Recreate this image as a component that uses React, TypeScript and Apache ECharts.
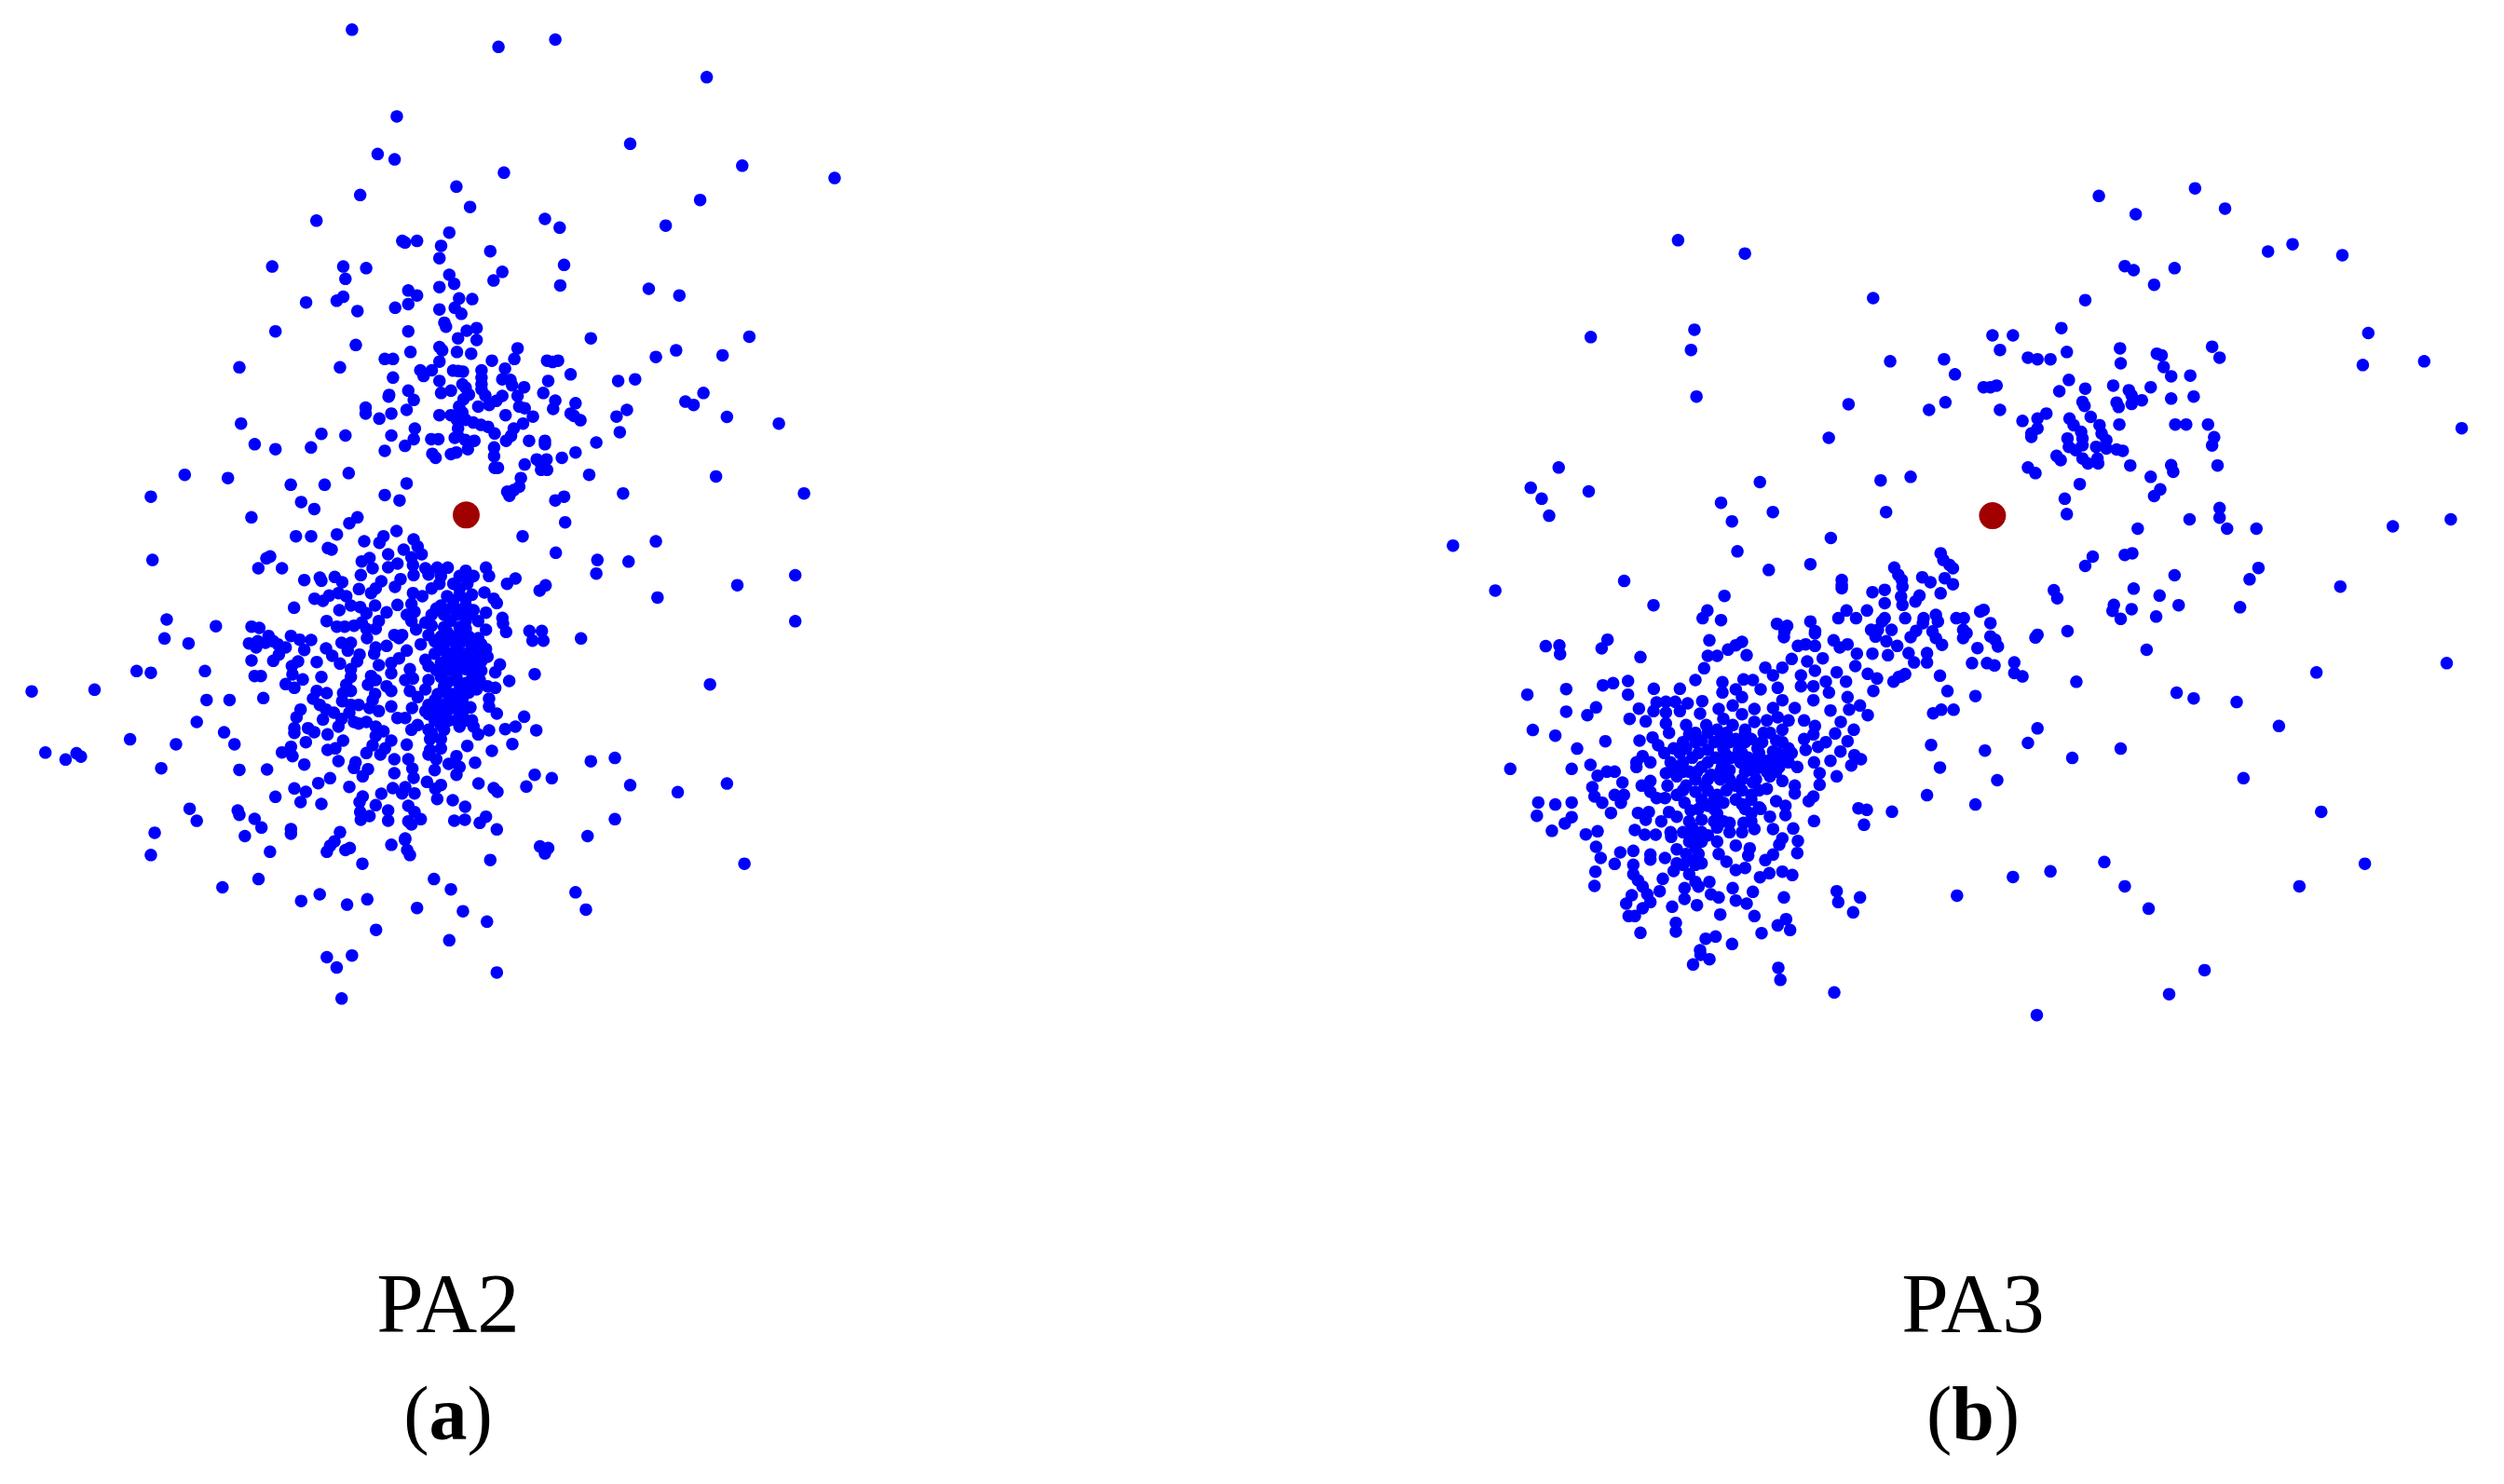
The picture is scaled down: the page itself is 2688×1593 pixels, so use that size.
import React, { useEffect, useRef } from "react";
import * as echarts from "echarts";

// Points, in overlapping reading windows.
const pa2Upper = [[644,89],[912,141],[1016,119],[1293,232],[726,350],[1153,432],[691,463],[722,479],[1358,498],[1527,535],[922,519],[835,561],[659,586],[1281,601],[860,622],[579,663],[997,658],[1024,684],[1218,678],[822,699],[736,724],[741,729],[763,724],[807,739],[897,755],[804,776],[498,801],[628,801],[670,806],[1032,796],[919,817],[822,826],[632,838],[831,853],[903,843],[1025,858],[804,863],[1187,868],[1243,888],[747,873],[763,888],[628,892],[616,904],[560,909],[840,897],[864,899],[747,914],[723,925],[654,935],[804,930],[832,925],[844,943],[813,970],[816,982],[504,996],[747,996],[872,986],[854,994],[838,1017],[872,1022],[1081,1017],[1371,1012],[651,1037],[804,1043],[809,1053],[947,1047],[836,1058],[862,1063],[751,1058],[1237,1053],[1322,1068],[704,1079],[719,1079],[941,1079],[1001,1084],[1011,1088],[1021,1084],[1200,1073],[900,1084],[804,1087],[438,1104],[622,1104],[769,1113],[790,1113],[829,1114],[847,1117],[838,1115],[881,1113],[924,1108],[1044,1125],[775,1130],[719,1135],[804,1145],[881,1135],[919,1140],[934,1142],[1003,1145],[1131,1145],[1162,1140],[881,1155],[846,1155],[937,1158],[959,1164],[747,1174],[825,1174],[807,1181],[852,1165],[881,1170],[994,1181],[1287,1181],[712,1187],[711,1192],[858,1186],[888,1189],[919,1190],[947,1190],[757,1202],[848,1200],[1016,1204],[1254,1207],[1269,1217],[1053,1212],[669,1225],[908,1205],[895,1217],[875,1222],[840,1222],[950,1222],[960,1227],[1012,1229],[1147,1232],[669,1243],[744,1232],[716,1243],[846,1240],[804,1248],[925,1248],[1044,1243],[694,1258],[825,1248],[975,1252],[1128,1252],[1330,1253],[1050,1250],[1062,1263],[836,1262],[852,1262],[866,1270],[880,1277],[893,1283],[957,1273],[1425,1273],[441,1273],[940,1288],[759,1288],[838,1288],[905,1303],[1134,1299],[588,1304],[632,1309],[716,1309],[838,1310],[935,1310],[757,1320],[789,1320],[802,1320],[832,1316],[851,1322],[868,1325],[926,1325],[968,1325],[997,1325],[997,1335],[1091,1330],[466,1335],[504,1350],[569,1345],[741,1340],[904,1345],[856,1350],[704,1355],[791,1364],[797,1376],[825,1365],[835,1360],[1053,1360],[904,1371],[1028,1376],[982,1381],[1000,1381],[960,1396],[990,1396],[905,1406],[911,1406],[990,1412],[1001,1412],[338,1427],[1078,1427],[1310,1432],[417,1437],[638,1422],[953,1437],[532,1457],[594,1457],[744,1453],[950,1463],[940,1473],[928,1478],[932,1490],[276,1493],[704,1488],[1032,1493],[1140,1483],[1471,1483],[731,1504],[1016,1504],[551,1509]];

const pa2Lower = [[575,18],[460,43],[654,43],[1034,58],[1200,115],[279,171],[1093,171],[1150,176],[1091,212],[1455,217],[1349,247],[1203,284],[1455,355],[305,350],[395,370],[301,407],[345,422],[1063,407],[250,505],[276,510],[375,505],[1299,545],[173,561],[58,566],[378,592],[420,592],[360,658],[410,689],[238,710],[322,725],[429,725],[83,750],[140,752],[148,762],[120,771],[295,797],[438,802],[1125,766],[1081,776],[1330,843],[1153,848],[1240,869],[347,919],[435,924],[438,937],[1125,950],[360,955],[283,991],[448,1001],[1075,1001],[741,1012],[612,1017],[604,1030],[716,1027],[988,1032],[1003,1037],[640,1037],[632,1043],[598,1048],[276,1058],[494,1048],[745,1043],[750,1058],[997,1053],[897,1073],[663,1084],[1362,1084],[473,1130],[794,1130],[407,1155],[825,1161],[1053,1170],[585,1176],[672,1191],[551,1196],[635,1207],[763,1217],[1072,1222],[847,1227],[891,1258],[688,1283],[822,1314],[644,1360],[598,1365],[616,1396],[909,1411],[625,1489]];

const pa2Dense = [[173,47],[222,47],[305,41],[345,5],[393,63],[442,68],[455,47],[497,30],[552,57],[903,47],[1010,100],[276,85],[288,90],[565,80],[78,118],[90,112],[470,105],[410,117],[385,128],[520,90],[578,105],[545,115],[52,150],[128,150],[420,150],[470,147],[500,135],[550,140],[590,150],[552,172],[628,148],[662,148],[720,158],[785,148],[600,170],[640,175],[700,175],[745,175],[795,175],[880,183],[853,200],[977,205],[958,222],[200,188],[250,180],[255,190],[298,178],[382,172],[322,195],[448,192],[510,185],[492,210],[635,200],[680,200],[725,200],[610,215],[376,217],[430,215],[415,230],[780,228],[233,248],[260,255],[280,238],[310,230],[335,240],[550,230],[580,240],[660,240],[700,235],[740,235],[810,248],[820,262],[167,277],[350,270],[380,275],[428,270],[500,268],[545,265],[640,270],[680,270],[720,270],[313,285],[400,295],[465,292],[530,300],[555,290],[610,300],[650,300],[690,300],[730,300],[785,293],[838,310],[272,320],[385,325],[440,320],[545,320],[670,320],[720,320],[760,320],[840,328],[30,338],[55,342],[305,338],[330,338],[360,335],[400,345],[430,345],[560,347],[610,335],[650,340],[700,340],[785,348],[850,355],[925,352],[965,352],[157,368],[85,368],[490,365],[515,365],[402,375],[600,365],[640,370],[680,370],[730,370],[760,375],[185,380],[222,381],[935,383],[970,383],[22,392],[50,385],[45,405],[75,390],[100,385],[115,395],[140,405],[270,408],[320,390],[350,390],[430,405],[465,400],[505,375],[575,395],[640,400],[690,400],[740,400],[785,410],[200,413],[290,432],[340,415],[425,425],[530,415],[620,425],[670,425],[720,425],[790,435],[118,428],[100,448],[180,450],[30,447],[240,452],[378,428],[315,457],[440,462],[505,440],[480,455],[590,445],[640,455],[690,450],[745,450],[830,460],[160,465],[370,450],[350,475],[480,488],[540,475],[625,478],[670,475],[720,475],[770,480],[815,485],[162,492],[942,491],[40,497],[60,497],[255,500],[350,500],[415,497],[550,505],[600,510],[640,500],[690,500],[740,505],[195,508],[860,513],[140,523],[168,535],[335,525],[405,525],[430,510],[465,530],[525,510],[590,540],[650,530],[700,525],[745,525],[790,530],[815,535],[480,545],[540,545],[240,545],[272,552],[68,568],[325,552],[350,545],[428,555],[565,565],[630,555],[680,555],[730,550],[228,570],[322,578],[420,575],[795,570],[250,590],[350,590],[375,590],[480,595],[547,600],[600,590],[640,590],[690,590],[735,598],[795,595],[410,600],[188,605],[270,605],[295,615],[345,615],[440,610],[600,620],[650,620],[700,620],[820,618],[175,630],[260,637],[320,635],[360,645],[400,645],[500,632],[525,632],[640,640],[690,640],[740,640],[908,628],[168,665],[212,665],[232,678],[168,680],[310,660],[375,650],[430,660],[455,675],[545,670],[565,655],[600,670],[650,670],[700,660],[745,660],[760,685],[795,672],[847,668],[880,660],[947,672],[275,685],[325,705],[430,690],[480,705],[605,700],[640,700],[205,710],[420,720],[530,718],[725,722],[870,716],[157,725],[128,743],[162,755],[275,735],[300,730],[460,730],[605,735],[640,730],[600,750],[804,738],[400,745],[445,750],[490,765],[535,765],[625,765],[690,755],[685,775],[750,776],[200,782],[310,771],[365,775],[360,793],[80,798],[405,797],[548,795],[665,780],[700,790],[620,800],[490,810],[388,820],[690,815],[283,826],[245,842],[552,825],[942,815],[997,826],[595,838],[640,848],[622,860],[761,843],[345,854],[915,853],[810,858],[822,870],[168,859],[205,870],[485,858],[525,855],[515,875],[555,875],[448,876],[107,886],[388,885],[628,893],[678,897],[378,903],[188,903],[255,909],[430,913],[718,918],[535,915],[470,930],[380,935],[555,935],[785,950],[575,958],[410,948],[470,963],[382,960],[683,963],[717,960],[765,970],[535,965],[545,975],[40,957],[62,985],[820,991],[157,990],[157,1005],[315,1000],[525,1020]];

const pa2Solid = [[700,215],[735,180],[680,255],[720,250],[655,285],[700,285],[745,285],[625,280],[590,325],[660,355],[710,355],[720,345],[620,385],[660,385],[710,385],[745,385],[770,395],[650,415],[695,415],[745,425],[770,430],[660,440],[715,450],[770,450],[600,465],[650,480],[695,475],[745,480],[665,515],[720,520],[765,510],[660,550],[705,550],[755,540],[620,575],[665,575],[710,570],[620,605],[665,605],[715,605],[620,640],[665,640],[720,640],[590,610],[610,680],[640,655]];

const pa3Upper = [[974,141],[1115,118],[1028,196],[1159,179],[357,274],[455,314],[1222,308],[1258,286],[1331,319],[1012,352],[1025,364],[1085,358],[1055,408],[643,448],[954,454],[381,543],[229,565],[919,538],[818,560],[848,560],[1369,553],[376,604],[829,604],[927,610],[1005,599],[1140,594],[1059,615],[1066,620],[1151,627],[668,638],[747,632],[870,627],[884,632],[903,632],[1006,644],[1361,649],[1451,638],[1069,655],[763,677],[1080,683],[1108,681],[930,694],[805,716],[815,716],[824,711],[995,711],[954,720],[1050,716],[916,728],[1018,725],[1022,740],[384,744],[1113,744],[1080,750],[607,767],[749,761],[950,760],[1037,755],[1000,762],[1022,766],[953,772],[1003,775],[725,784],[829,784],[897,795],[884,810],[931,810],[962,805],[862,817],[937,830],[975,830],[1004,828],[1086,828],[1102,828],[1134,828],[884,840],[1506,839],[578,868],[875,855],[875,865],[948,850],[978,855],[1143,866],[928,870],[950,870],[985,875],[1140,891],[930,895],[950,890],[970,895],[985,900],[1000,903],[1009,907],[940,905],[912,922],[918,935],[950,930],[972,930],[958,945],[973,945],[1020,951],[1080,950],[1148,951],[870,957],[881,974],[1083,970],[182,957],[1050,985],[698,985],[654,996],[477,1001],[141,1018],[946,1007],[226,1029],[1064,1023],[157,1051],[1055,1043],[420,1063],[924,1051],[1151,1079],[168,1102],[496,1091],[662,1091],[927,1097],[436,1119],[1107,1113],[1151,1108],[1490,1113]];

const pa3Lower = [[1031,21],[1162,21],[1205,21],[1405,14],[581,49],[27,72],[444,89],[1023,95],[1012,100],[965,105],[954,133],[551,128],[490,145],[1208,139],[742,95],[746,115],[755,130],[760,140],[674,138],[680,160],[278,178],[715,167],[1085,161],[1195,173],[597,175],[597,190],[685,175],[727,182],[748,170],[760,188],[89,207],[686,195],[1328,195],[1025,201],[908,206],[913,230],[642,212],[660,205],[597,200],[742,215],[711,222],[1063,222],[425,223],[684,225],[660,245],[321,251],[705,240],[686,250],[1091,251],[996,250],[1181,257],[604,267],[634,267],[400,267],[805,265],[800,270],[994,268],[1022,263],[393,290],[420,296],[592,290],[618,290],[660,290],[690,290],[735,280],[717,290],[765,290],[776,290],[1058,285],[1006,292],[502,307],[517,313],[551,300],[716,305],[738,300],[656,300],[815,305],[558,329],[513,330],[640,325],[670,325],[650,325],[706,328],[775,325],[780,335],[730,330],[928,329],[884,340],[881,348],[698,347],[163,374],[183,372],[735,350],[815,345],[822,355],[775,350],[744,370],[826,375],[1044,385],[184,398],[796,380],[695,395],[722,395],[703,423],[722,423],[788,425],[810,425],[821,432],[850,423],[1484,425],[850,455],[862,465],[1293,453],[690,458],[741,463],[684,465],[941,481],[193,503],[136,520],[752,509],[793,524],[1088,514],[1113,531],[1176,542],[193,571],[761,565],[743,565],[731,576],[1238,614],[884,621],[144,626],[177,643],[870,665],[728,671],[209,682],[1006,682],[807,688],[935,710],[111,743],[201,743],[741,739],[825,777],[1186,771],[722,822],[152,844],[177,850],[201,844],[793,850],[1300,872],[150,884],[201,888],[191,907],[172,929],[982,1023],[1364,1028],[903,1051],[848,1068],[1012,1096],[1268,1096],[766,1124],[1047,1163],[390,1302],[403,1315],[379,1331],[504,1341],[507,1377],[1129,1348],[586,1415],[1077,1420],[883,1483]];

const pa3Dense = [[77,20],[58,48],[183,76],[405,22],[510,27],[490,38],[465,52],[400,72],[430,72],[525,70],[645,12],[745,0],[690,40],[715,35],[745,40],[805,22],[850,35],[825,45],[880,65],[940,10],[975,25],[1010,40],[930,65],[980,70],[670,82],[720,90],[770,80],[388,112],[585,110],[640,110],[875,105],[815,125],[915,130],[945,145],[998,155],[1015,140],[360,150],[143,153],[62,167],[95,160],[447,157],[515,148],[545,150],[610,135],[700,135],[745,120],[845,155],[780,155],[226,178],[310,178],[143,197],[447,190],[490,180],[510,205],[570,180],[625,175],[700,170],[740,170],[790,190],[933,185],[850,205],[640,215],[382,218],[235,222],[265,220],[295,220],[335,225],[480,232],[740,215],[890,232],[40,238],[178,242],[435,243],[550,243],[610,240],[680,240],[795,248],[855,245],[12,263],[375,258],[225,250],[265,255],[310,250],[915,263],[148,275],[200,283],[510,260],[625,270],[450,275],[550,285],[590,280],[660,280],[710,280],[828,285],[265,290],[330,295],[395,295],[480,295],[745,298],[520,310],[870,310],[275,320],[340,325],[430,310],[580,320],[640,310],[810,322],[70,347],[222,335],[180,345],[380,345],[440,340],[490,340],[540,340],[620,345],[710,340],[740,325],[780,350],[850,347],[240,360],[290,370],[330,370],[400,375],[450,370],[500,375],[560,370],[610,380],[660,370],[715,375],[755,365],[827,380],[260,385],[190,395],[350,400],[425,400],[475,400],[530,400],[590,410],[640,400],[795,410],[872,392],[893,405],[170,415],[170,430],[215,415],[742,415],[862,425],[22,423],[300,430],[380,430],[445,430],[530,430],[570,430],[630,430],[688,430],[760,450],[815,460],[45,458],[75,445],[100,445],[265,450],[340,445],[410,455],[470,440],[300,460],[125,480],[215,475],[440,470],[510,470],[600,460],[640,475],[760,487],[187,490],[28,495],[270,490],[330,490],[390,490],[490,490],[545,480],[680,490],[215,510],[130,520],[35,525],[100,520],[300,520],[360,510],[430,520],[540,520],[590,500],[680,515],[235,530],[262,530],[60,545],[120,545],[740,525],[725,540],[325,545],[400,555],[450,545],[510,550],[565,560],[620,540],[650,555],[885,563],[912,568],[993,574],[88,578],[175,578],[210,575],[275,575],[345,570],[430,580],[540,580],[600,590],[650,585],[200,600],[300,590],[742,604],[903,616],[250,605],[380,600],[470,610],[515,610],[610,630],[165,633],[45,637],[7,647],[197,648],[232,648],[280,640],[282,655],[350,625],[430,625],[550,630],[675,628],[355,650],[400,650],[640,660],[690,668],[630,680],[490,683],[40,687],[160,700],[118,705],[215,712],[300,695],[360,690],[535,692],[435,710],[688,707],[610,712],[55,723],[262,723],[215,728],[530,715],[585,730],[460,735],[100,742],[160,745],[300,740],[340,730],[380,740],[38,767],[520,755],[490,762],[160,775],[290,765],[340,775],[640,767],[598,772],[672,778],[568,785],[255,790],[175,795],[35,813],[190,815],[360,800],[405,800],[480,820],[325,820],[545,832],[815,830],[245,830],[370,815],[155,843],[205,840],[410,840],[435,850],[490,860],[645,850],[890,850],[137,870],[325,855],[820,865],[525,870],[215,865],[285,880],[365,875],[190,885],[868,898],[440,905],[550,910],[145,910],[165,910],[652,920],[297,932],[625,940],[665,955],[183,964],[297,960],[573,965],[425,976],[393,983],[478,1000],[375,1020]];

const pa3Solid = [[360,320],[400,320],[460,320],[520,320],[600,320],[320,350],[360,350],[420,350],[470,350],[520,350],[575,350],[640,350],[310,385],[370,385],[455,385],[510,385],[565,385],[625,385],[670,385],[280,415],[320,415],[400,415],[450,415],[505,415],[555,415],[610,415],[660,415],[290,445],[320,445],[365,445],[440,445],[520,445],[550,445],[590,445],[620,445],[360,470],[400,470],[470,470],[555,470],[320,505],[400,505],[460,505],[510,505],[565,505],[380,535],[420,535],[490,535],[540,535],[370,565],[420,565],[520,565],[570,565],[340,605],[420,605],[450,605],[540,605],[320,640],[380,640],[470,640],[510,640],[340,670],[380,670],[430,670],[330,710],[370,710],[320,745],[360,745]];

const pa2Center = [[853, 36]];
const pa3Center = [[818, 1102]];

const BLUE = "#0000ff";
const RED = "#a00000";
const DOT = 13.5;
const BIG = 29;

function App() {
  const ref = useRef<HTMLDivElement>(null);
  useEffect(() => {
    document.body.style.margin = "0";
    const chart = echarts.init(ref.current!, null, { renderer: "svg" });
    const windows = [
      { left: 0, top: 0, width: 920, height: 560, xMax: 1568, yMax: 1568 },
      { left: 0, top: 540, width: 920, height: 560, xMax: 1568, yMax: 1568 },
      { left: 1540, top: 160, width: 1148, height: 560, xMax: 1568, yMax: 1568 },
      { left: 1540, top: 560, width: 1148, height: 560, xMax: 1568, yMax: 1568 },
      { left: 260, top: 560, width: 340, height: 340, xMax: 1020, yMax: 1020 },
      { left: 1700, top: 680, width: 340, height: 340, xMax: 1020, yMax: 1020 },
    ];
    const sets: [number, number[][], string, number][] = [
      [0, pa2Upper, BLUE, DOT],
      [1, pa2Lower, BLUE, DOT],
      [4, pa2Dense, BLUE, DOT],
      [4, pa2Solid, BLUE, DOT],
      [2, pa3Upper, BLUE, DOT],
      [3, pa3Lower, BLUE, DOT],
      [5, pa3Dense, BLUE, DOT],
      [5, pa3Solid, BLUE, DOT],
      [1, pa2Center, RED, BIG],
      [2, pa3Center, RED, BIG],
    ];
    const serif = "'Liberation Serif', serif";
    const label = (x: number, y: number, t: string) => ({
      type: "text", x, y,
      style: { text: t, fill: "#000", font: `91px ${serif}`, textAlign: "center", textVerticalAlign: "top" },
    });
    const sub = (x: number, y: number, t: string) => ({
      type: "text", x, y,
      style: {
        text: `{n|(}{b|${t}}{n|)}`, textAlign: "center", textVerticalAlign: "top",
        rich: {
          n: { font: `82px ${serif}`, fill: "#000" },
          b: { font: `bold 82px ${serif}`, fill: "#000" },
        },
      },
    });
    chart.setOption({
      animation: false,
      backgroundColor: "#ffffff",
      grid: windows.map((w) => ({ left: w.left, top: w.top, width: w.width, height: w.height, containLabel: false })),
      xAxis: windows.map((w, i) => ({ type: "value", min: 0, max: w.xMax, show: false, gridIndex: i })),
      yAxis: windows.map((w, i) => ({ type: "value", min: 0, max: w.yMax, show: false, gridIndex: i, inverse: true })),
      series: sets.map(([i, data, color, size]) => ({
        type: "scatter", xAxisIndex: i, yAxisIndex: i, data, symbol: "circle", symbolSize: size,
        clip: false, silent: true, itemStyle: { color, opacity: 1 },
      })),
      graphic: [
        label(481, 1354, "PA2"),
        label(2118, 1354, "PA3"),
        sub(481, 1476, "a"),
        sub(2118, 1476, "b"),
      ],
    });
    return () => chart.dispose();
  }, []);
  return <div ref={ref} style={{ position: "fixed", left: 0, top: 0, width: 2688, height: 1593, background: "#fff" }} />;
}

export default App;
